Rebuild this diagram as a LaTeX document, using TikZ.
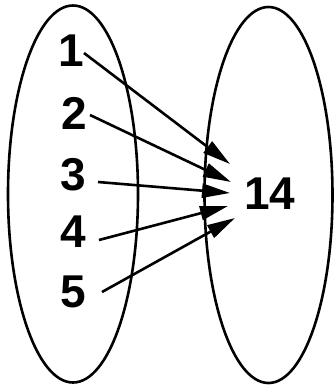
\documentclass[tikz,border=0pt]{standalone}
\usepackage{fontspec}
\setmainfont{Liberation Sans}
\usetikzlibrary{arrows.meta}
\begin{document}
\begin{tikzpicture}[x=1pt,y=-1pt,
  setline/.style={line width=2.6pt},
  lbl/.style={font=\fontsize{46}{46}\selectfont\bfseries, inner sep=0pt},
  maparrow/.style={line width=2.6pt, -{Triangle[length=28pt,width=14pt]}}]
\useasboundingbox (0,0) rectangle (334,386);
\draw[setline] (73,194) ellipse [x radius=65, y radius=188.5];
\draw[setline] (268.5,195) ellipse [x radius=64, y radius=188];
\node[lbl] (n1) at (71,51) {1};
\node[lbl] (n2) at (74.5,113) {2};
\node[lbl] (n3) at (73,175) {3};
\node[lbl] (n4) at (73,232) {4};
\node[lbl] (n5) at (73,292) {5};
\node[lbl] (n14) at (270,194) {14};
\coordinate (s1) at (84,53);
\coordinate (s2) at (90,115);
\coordinate (s3) at (98,182);
\coordinate (s4) at (99,240);
\coordinate (s5) at (102,292);
\coordinate (t1) at (230,164);
\coordinate (t2) at (231,182);
\coordinate (t3) at (230,193);
\coordinate (t4) at (228,206);
\coordinate (t5) at (235,218);
\foreach \i in {1,...,5} \draw[maparrow] (s\i) -- (t\i);
\end{tikzpicture}
\end{document}
